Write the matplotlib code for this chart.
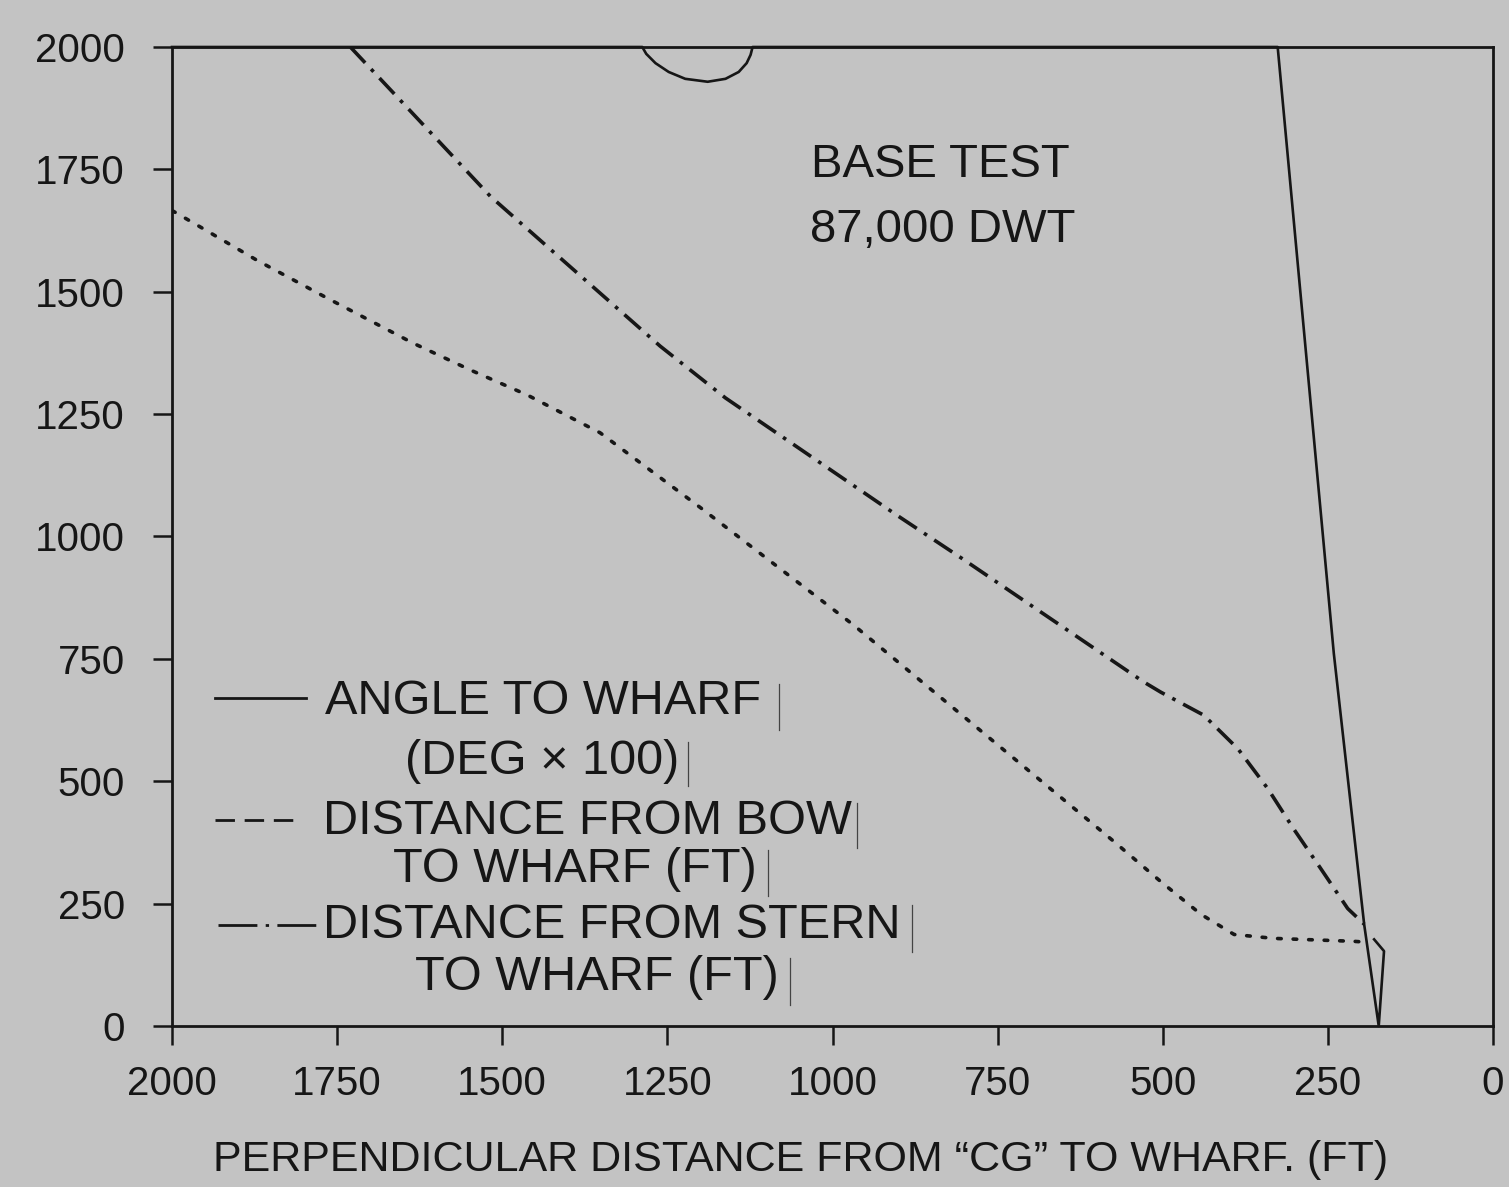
import numpy as np
import matplotlib
matplotlib.use('Agg')
import matplotlib.pyplot as plt
from matplotlib.lines import Line2D

plt.rcParams['font.family'] = ['Liberation Sans', 'DejaVu Sans']

# %% data
# angle to wharf (deg x 100), values above 2000 sit on the top frame
angle_x = [2000, 1288, 1282, 1268, 1248, 1223, 1189, 1162, 1142, 1130, 1124, 1121,
           326, 241, 195, 173, 165, 180]
angle_y = [2000, 2000, 1986, 1967, 1949, 1935, 1929, 1935, 1949, 1967, 1984, 2000,
           2000, 761, 207, 0, 153, 177]

# distance from bow to wharf (ft)
bow_x = [2000, 1958, 1871, 1765, 1635, 1548, 1462, 1352, 1200, 1023,
         968, 574, 503, 442, 392, 332, 211, 189]
bow_y = [1666, 1633, 1564, 1487, 1395, 1340, 1289, 1212, 1059, 876,
         819, 377, 295, 228, 187, 179, 173, 171]

# distance from stern to wharf (ft)
stern_x = [1730, 1518, 1261, 1162, 902, 806, 529, 503, 438, 386,
           341, 302, 261, 220, 195]
stern_y = [2000, 1695, 1389, 1283, 1043, 957, 703, 682, 635, 566,
           485, 403, 322, 240, 208]

xticks = [2000, 1750, 1500, 1250, 1000, 750, 500, 250, 0]
yticks = [0, 250, 500, 750, 1000, 1250, 1500, 1750, 2000]

# %% figure
W, H = 1509, 1187
bg = '#c3c3c3'
ink = '#161616'

fig = plt.figure(figsize=(W / 100, H / 100), dpi=100, facecolor=bg)
ax = fig.add_axes([172 / W, 1 - 1026 / H, (1493 - 172) / W, (1026 - 47) / H])
ax.set_facecolor(bg)

ax.plot(angle_x, angle_y, color=ink, lw=1.9, clip_on=False)
ax.plot(bow_x, bow_y, color=ink, lw=2.6, linestyle=(0, (1.0, 3.3)),
        dash_capstyle='round')
ax.plot(stern_x, stern_y, color=ink, lw=2.6,
        linestyle=(0, (6.0, 2.4, 1.0, 2.4)))

ax.set_xlim(2000, 0)
ax.set_ylim(0, 2000)
ax.set_xticks(xticks)
ax.set_yticks(yticks)
ax.tick_params(axis='both', direction='out', length=14, width=1.8,
               colors=ink, labelsize=29)
ax.tick_params(axis='y', pad=20)
ax.tick_params(axis='x', pad=14)
for s in ax.spines.values():
    s.set_linewidth(2.0)
    s.set_color(ink)


# %% annotations, placed in pixel positions of the reference
def ftext(px, py, s, **kw):
    fig.text(px / W, 1 - py / H, s, color=ink, fontsize=kw.pop('fontsize', 35),
             va='center', **kw)


def fline(x0, x1, py, **kw):
    fig.add_artist(Line2D([x0 / W, x1 / W], [1 - py / H, 1 - py / H],
                          color=ink, **kw))


def fbar(px, y0, y1):
    fig.add_artist(Line2D([px / W, px / W], [1 - y0 / H, 1 - y1 / H],
                          color='#444444', lw=0.9))


ftext(801, 1160, 'PERPENDICULAR DISTANCE FROM \u201cCG\u201d TO WHARF. (FT)',
      ha='center', fontsize=31)

ftext(940, 165, 'BASE TEST', ha='center', fontsize=34)
ftext(943, 230, '87,000 DWT', ha='center', fontsize=34)

fline(215, 306, 698, lw=2.0)
ftext(325, 702, 'ANGLE TO WHARF', ha='left')
fbar(779, 684, 730)
ftext(542, 762, '(DEG \u00d7 100)', ha='center')
fbar(688, 742, 786)

fline(215, 302, 820, lw=2.0, linestyle=(0, (7.0, 3.5)))
ftext(323, 822, 'DISTANCE FROM BOW', ha='left')
fbar(857, 803, 848)
ftext(575, 870, 'TO WHARF (FT)', ha='center')
fbar(768, 850, 896)

fline(218, 316, 925, lw=2.0, linestyle=(0, (14.0, 3.0, 1.2, 3.0)))
ftext(323, 926, 'DISTANCE FROM STERN', ha='left')
fbar(912, 905, 952)
ftext(597, 978, 'TO WHARF (FT)', ha='center')
fbar(790, 958, 1005)

fig.savefig('out.png', dpi=100, facecolor=bg)
